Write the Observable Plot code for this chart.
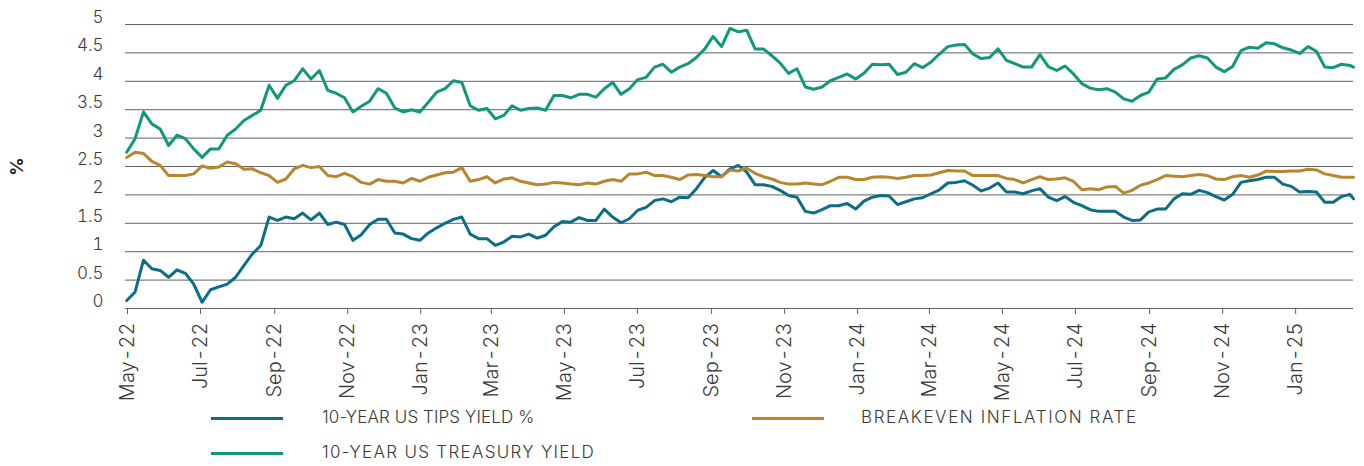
<!DOCTYPE html>
<html><head><meta charset="utf-8">
<script src="https://cdn.jsdelivr.net/npm/d3@7"></script>
<script src="https://cdn.jsdelivr.net/npm/@observablehq/plot@0.6"></script>
<style>
body{margin:0;background:#fff;font-family:Inter,"Noto Sans",sans-serif;}
#chart{width:1364px;height:400px;}
.legend{position:relative;width:1364px;height:66px;}
.sw{position:absolute;height:3px;width:72px;}
.lab{position:absolute;font-size:17px;color:#3a3a3a;font-weight:300;white-space:nowrap;line-height:1;}
</style></head>
<body>
<div id="chart"></div>
<div class="legend" id="legend"></div>
<script>
const seriesNames = ["10-YEAR US TIPS YIELD %", "10-YEAR US TREASURY YIELD", "BREAKEVEN INFLATION RATE"];
const seriesColors = ["#0b6e86", "#12977b", "#b8862f"];

const dates = [
"2022-05-02","2022-05-09","2022-05-16","2022-05-23","2022-05-30","2022-06-06","2022-06-13","2022-06-20","2022-06-27",
"2022-07-04","2022-07-11","2022-07-18","2022-07-25","2022-08-01","2022-08-08","2022-08-15","2022-08-22","2022-08-29",
"2022-09-05","2022-09-12","2022-09-19","2022-09-26","2022-10-03","2022-10-10","2022-10-17","2022-10-24","2022-10-31",
"2022-11-07","2022-11-14","2022-11-21","2022-11-28","2022-12-05","2022-12-12","2022-12-19","2022-12-26",
"2023-01-02","2023-01-09","2023-01-16","2023-01-23","2023-01-30","2023-02-06","2023-02-13","2023-02-20","2023-02-27",
"2023-03-06","2023-03-13","2023-03-20","2023-03-27","2023-04-03","2023-04-10","2023-04-17","2023-04-24",
"2023-05-01","2023-05-08","2023-05-15","2023-05-22","2023-05-29","2023-06-05","2023-06-12","2023-06-19","2023-06-26",
"2023-07-03","2023-07-10","2023-07-17","2023-07-24","2023-07-31","2023-08-07","2023-08-14","2023-08-21","2023-08-28",
"2023-09-04","2023-09-11","2023-09-18","2023-09-25","2023-10-02","2023-10-09","2023-10-16","2023-10-23","2023-10-30",
"2023-11-06","2023-11-13","2023-11-20","2023-11-27","2023-12-04","2023-12-11","2023-12-18","2023-12-25",
"2024-01-01","2024-01-08","2024-01-15","2024-01-22","2024-01-29","2024-02-05","2024-02-12","2024-02-19","2024-02-26",
"2024-03-04","2024-03-11","2024-03-18","2024-03-25","2024-04-01","2024-04-08","2024-04-15","2024-04-22","2024-04-29",
"2024-05-06","2024-05-13","2024-05-20","2024-05-27","2024-06-03","2024-06-10","2024-06-17","2024-06-24",
"2024-07-01","2024-07-08","2024-07-15","2024-07-22","2024-07-29","2024-08-05","2024-08-12","2024-08-19","2024-08-26",
"2024-09-02","2024-09-09","2024-09-16","2024-09-23","2024-09-30","2024-10-07","2024-10-14","2024-10-21","2024-10-28",
"2024-11-04","2024-11-11","2024-11-18","2024-11-25","2024-12-02","2024-12-09","2024-12-16","2024-12-23","2024-12-30",
"2025-01-06","2025-01-13","2025-01-20","2025-01-27","2025-02-03","2025-02-10","2025-02-17","2025-02-20"];

const tips = [
0.14,0.29,0.85,0.70,0.67,0.55,0.68,0.62,0.43,0.11,0.33,0.38,0.43,0.55,0.76,0.96,1.11,1.61,1.55,1.61,1.58,1.68,1.56,1.68,1.48,
1.52,1.48,1.20,1.30,1.48,1.57,1.57,1.33,1.31,1.23,1.20,1.33,1.42,1.50,1.57,1.61,1.31,1.23,1.23,1.11,1.17,1.27,1.26,1.31,
1.24,1.29,1.44,1.53,1.52,1.60,1.55,1.55,1.75,1.61,1.51,1.58,1.73,1.78,1.90,1.93,1.88,1.96,1.95,2.11,2.31,2.43,2.32,2.46,2.52,
2.40,2.18,2.18,2.15,2.08,1.99,1.96,1.71,1.68,1.74,1.81,1.81,1.85,1.75,1.89,1.96,1.99,1.98,1.83,1.88,1.93,1.95,2.02,2.09,
2.21,2.22,2.25,2.17,2.07,2.12,2.21,2.05,2.05,2.02,2.07,2.11,1.96,1.90,1.97,1.87,1.81,1.74,1.71,1.71,1.71,1.61,1.55,1.56,1.70,
1.75,1.75,1.93,2.02,2.01,2.08,2.04,1.97,1.91,2.01,2.22,2.25,2.27,2.31,2.31,2.19,2.15,2.05,2.06,2.05,1.87,1.87,1.97,2.01,1.93];

const treasury = [
2.75,2.99,3.46,3.25,3.16,2.87,3.05,2.99,2.81,2.66,2.81,2.81,3.05,3.16,3.31,3.40,3.49,3.93,3.70,3.93,4.01,4.22,4.04,4.19,3.84,
3.79,3.71,3.46,3.56,3.65,3.87,3.79,3.53,3.46,3.50,3.46,3.63,3.81,3.87,4.01,3.98,3.57,3.49,3.52,3.34,3.40,3.57,3.49,3.52,
3.53,3.49,3.75,3.75,3.71,3.77,3.77,3.72,3.87,3.98,3.77,3.87,4.03,4.07,4.25,4.30,4.16,4.25,4.31,4.42,4.57,4.79,4.61,4.93,4.87,
4.90,4.57,4.57,4.45,4.32,4.14,4.22,3.90,3.86,3.90,4.01,4.07,4.13,4.04,4.14,4.30,4.29,4.30,4.12,4.16,4.31,4.24,4.34,4.48,
4.61,4.64,4.65,4.48,4.40,4.42,4.57,4.37,4.31,4.25,4.25,4.47,4.26,4.19,4.27,4.13,3.96,3.88,3.85,3.87,3.81,3.69,3.65,3.75,3.81,
4.04,4.06,4.21,4.29,4.41,4.45,4.41,4.25,4.17,4.26,4.54,4.60,4.58,4.68,4.66,4.59,4.55,4.49,4.61,4.53,4.25,4.24,4.30,4.28,4.25];

const breakeven = [
2.66,2.75,2.73,2.59,2.52,2.34,2.34,2.34,2.37,2.51,2.47,2.49,2.58,2.55,2.45,2.46,2.39,2.34,2.22,2.28,2.46,2.52,2.48,2.50,2.34,
2.32,2.38,2.32,2.22,2.19,2.27,2.24,2.24,2.21,2.29,2.24,2.31,2.35,2.39,2.40,2.48,2.24,2.27,2.32,2.21,2.28,2.30,2.24,2.21,
2.18,2.19,2.22,2.21,2.19,2.18,2.21,2.19,2.24,2.27,2.24,2.37,2.37,2.40,2.34,2.34,2.31,2.27,2.35,2.36,2.34,2.32,2.32,2.44,2.42,
2.47,2.38,2.32,2.28,2.22,2.19,2.19,2.21,2.19,2.18,2.24,2.31,2.31,2.27,2.27,2.31,2.32,2.31,2.29,2.31,2.34,2.34,2.35,2.39,
2.43,2.42,2.42,2.34,2.34,2.34,2.34,2.29,2.27,2.21,2.27,2.32,2.27,2.28,2.30,2.24,2.09,2.11,2.09,2.14,2.15,2.03,2.08,2.17,2.21,
2.27,2.34,2.33,2.32,2.34,2.36,2.34,2.28,2.27,2.32,2.34,2.31,2.35,2.42,2.41,2.41,2.42,2.42,2.45,2.44,2.37,2.34,2.31,2.31,2.31];

const yTicks = [0, 0.5, 1, 1.5, 2, 2.5, 3, 3.5, 4, 4.5, 5];
const yTickLabels = ["0", "0.5", "1", "1.5", "2", "2.5", "3", "3.5", "4", "4.5", "5"];
const xTickDates = ["2022-05-01","2022-07-01","2022-09-01","2022-11-01","2023-01-01","2023-03-01","2023-05-01","2023-07-01",
  "2023-09-01","2023-11-01","2024-01-01","2024-03-01","2024-05-01","2024-07-01","2024-09-01","2024-11-01","2025-01-01"];
const xTickLabels = ["May-22","Jul-22","Sep-22","Nov-22","Jan-23","Mar-23","May-23","Jul-23","Sep-23","Nov-23",
  "Jan-24","Mar-24","May-24","Jul-24","Sep-24","Nov-24","Jan-25"];
const xDomain = ["2022-05-01", "2025-02-20"];

const valuesBySeries = [tips, treasury, breakeven];
const rows = [];
seriesNames.forEach((s, j) => {
  valuesBySeries[j].forEach((v, i) => rows.push({date: new Date(dates[i]), value: v, series: s}));
});
const yLabelMap = new Map(yTicks.map((v, i) => [v, yTickLabels[i]]));
const xLabelMap = new Map(xTickDates.map((d, i) => [+new Date(d), xTickLabels[i]]));

const gridColor = "#626262";
const textColor = "#3a3a3a";

const chart = Plot.plot({
  width: 1364, height: 400,
  marginLeft: 125, marginRight: 11, marginTop: 24, marginBottom: 92,
  style: {fontFamily: "Inter, 'Noto Sans', sans-serif", background: "#fff", color: textColor, overflow: "visible"},
  x: {type: "utc", domain: xDomain.map(d => new Date(d))},
  y: {domain: [0, 5]},
  color: {domain: seriesNames, range: seriesColors},
  marks: [
    Plot.ruleY(yTicks.slice(1), {stroke: gridColor, strokeWidth: 1}),
    Plot.ruleY([0], {stroke: gridColor, strokeWidth: 1.2}),
    Plot.axisY({ticks: yTicks, tickFormat: d => yLabelMap.get(d), tickSize: 0, tickPadding: 22, dy: -7,
      label: null, fontSize: 17, fontWeight: 300, fill: textColor}),
    Plot.axisX({ticks: xTickDates.map(d => new Date(d)), tickFormat: d => xLabelMap.get(+d), tickRotate: -90,
      tickSize: 6, tickPadding: 8, dx: 2, label: null, stroke: gridColor, fontSize: 20, fontWeight: 300, fill: textColor}),
    Plot.line(rows, {x: "date", y: "value", z: "series", stroke: "series", strokeWidth: 3, strokeLinejoin: "round"}),
    Plot.text(["%"], {frameAnchor: "left", dx: -108, textAnchor: "middle", rotate: -90, fontWeight: "bold", fontSize: 18, fill: "#222"})
  ]
});
document.getElementById("chart").appendChild(chart);

// legend
const legendItems = [
  {i: 0, lineLeft: 211, textLeft: 322, top: 17, spacing: 0.1},
  {i: 2, lineLeft: 752, textLeft: 861, top: 17, spacing: 1.6},
  {i: 1, lineLeft: 211, textLeft: 322, top: 52, spacing: 1.3}
];
const leg = document.getElementById("legend");
legendItems.forEach(it => {
  const sw = document.createElement("div");
  sw.className = "sw";
  sw.style.left = it.lineLeft + "px";
  sw.style.top = it.top + "px";
  sw.style.background = seriesColors[it.i];
  leg.appendChild(sw);
  const lab = document.createElement("div");
  lab.className = "lab";
  lab.style.left = it.textLeft + "px";
  lab.style.top = (it.top - 8) + "px";
  lab.style.letterSpacing = it.spacing + "px";
  lab.textContent = seriesNames[it.i];
  leg.appendChild(lab);
});
</script>
</body></html>
